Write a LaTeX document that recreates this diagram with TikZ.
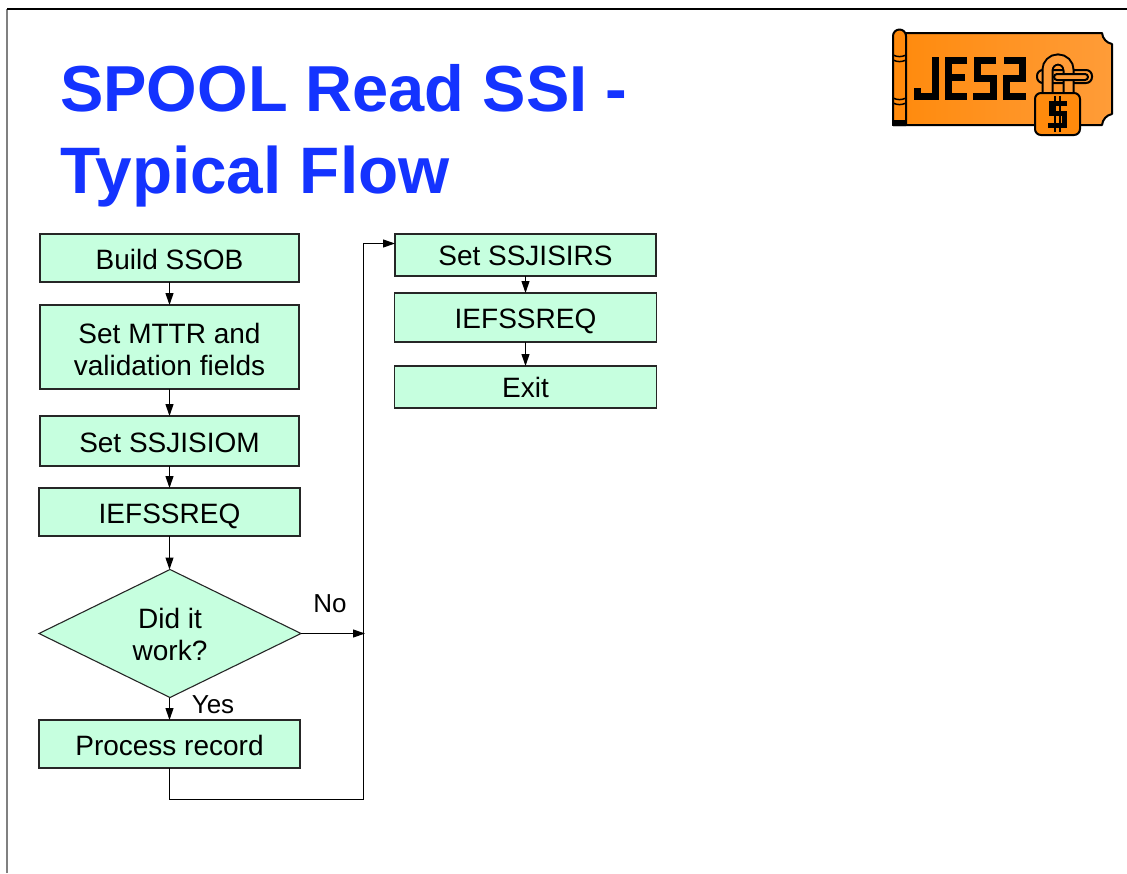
\documentclass[tikz,border=0pt]{standalone}
\usepackage{fontspec}
\setmainfont{Liberation Sans}
\usetikzlibrary{shapes.geometric,arrows.meta}
\definecolor{boxgreen}{HTML}{C6FFDF}
\definecolor{titleblue}{HTML}{1433FF}
\definecolor{logolight}{HTML}{FF9C38}
\definecolor{logodark}{HTML}{FF8A0C}
\tikzset{
	flowbox/.style = {draw = black!85, fill = boxgreen, line width = 1.1, inner sep = 0, outer sep = 0, align = center, font = \fontsize{28}{32}\selectfont},
	lowered/.style = {text height = #1, text depth = 0},
	flowtext/.style = {inner sep = 0, font = \fontsize{26}{30}\selectfont},
	flowline/.style = {line width = 1.1, ->},
	titletext/.style = {anchor = base west, inner sep = 0, text = titleblue},
	logoline/.style = {line width = 2, line join = round},
	logoletter/.style = {line width = 7, line join = miter, line cap = butt}
}
\begin{document}
\begin{tikzpicture}[x = 1pt, y = -1pt, > = {Triangle[length = 12, width = 8]}]
	\useasboundingbox (0,0) rectangle (1127,873);

	\draw[gray, line width = 2] (7,873) -- (7,9);
	\draw[line width = 1.2] (7,9) -- (1127,9);

	\node[titletext, font = \fontsize{65}{70}\selectfont\bfseries] (title1) at (60,111) {SPOOL Read SSI -};
	\node[titletext, font = \fontsize{65.7}{70}\selectfont\bfseries] (title2) at (60,193) {Typical Flow};

	% left column
	\node[flowbox, lowered = 22, minimum width = 259, minimum height = 48] (ssob) at (169.5,258) {Build SSOB};
	\node[flowbox, lowered = 56, minimum width = 259, minimum height = 84] (mttr) at (169.5,347) {Set MTTR and\\validation fields};
	\node[flowbox, lowered = 23, minimum width = 259, minimum height = 50] (siom) at (169.5,441) {Set SSJISIOM};
	\node[flowbox, lowered = 23, minimum width = 261, minimum height = 48] (req1) at (169.5,512) {IEFSSREQ};
	\node[flowbox, diamond, aspect = 2.05, minimum width = 262, minimum height = 128] (work) at (170,633.5) {};
	\node[flowtext, align = center, font = \fontsize{28}{32}\selectfont] (worktext) at (170,634) {Did it\\work?};
	\node[flowbox, lowered = 22, minimum width = 261, minimum height = 48] (proc) at (169.5,744) {Process record};

	% right column
	\node[flowbox, lowered = 21, minimum width = 261, minimum height = 42] (sirs) at (525.5,255) {Set SSJISIRS};
	\node[flowbox, lowered = 22.5, minimum width = 262, minimum height = 49] (req2) at (525.5,317.5) {IEFSSREQ};
	\node[flowbox, lowered = 21, minimum width = 262, minimum height = 42] (exit) at (525.5,387) {Exit};

	\node[flowtext] (no) at (330,604) {No};
	\node[flowtext] (yes) at (213,705) {Yes};

	\coordinate (join) at (365,633.5);
	\coordinate (entry) at (395,243.5);
	\coordinate (low) at (363.5,799.5);
	\coordinate (high) at (363.5,243.5);

	\draw[flowline] (ssob) -- (mttr);
	\draw[flowline] (mttr) -- (siom);
	\draw[flowline] (siom) -- (req1);
	\draw[flowline] (req1.south) -- (req1.south |- work.north);
	\draw[flowline] (work.south -| proc.north) -- (proc.north);
	\draw[flowline] (work.east) -- (join);
	\draw[flowline] (proc.south) |- (low) -- (high) -- (entry);
	\draw[flowline] (sirs) -- (req2);
	\draw[flowline] (req2) -- (exit);

	% logo
	\draw[logoline, left color = logodark, right color = logolight] (906,33) -- (1102,33) to[bend right = 35] (1112,44) -- (1112,114) to[bend right = 35] (1102,125) -- (893,125) -- (906,33);
	\draw[logoline, fill = logodark] (893,125) -- (893,36) arc (180:360:6.5) -- (906,125) -- cycle;
	\fill (893,120) rectangle (906,125);
	\draw[line width = 1.5] (893,55) to[bend right = 25] (906,55) (893,60) to[bend right = 25] (906,60);
	\draw[line width = 1.5] (893,98) to[bend right = 25] (906,98) (893,103) to[bend right = 25] (906,103);

	\draw[logoletter] (935,57) -- (935,96) -- (917,96) -- (917,88);
	\draw[logoletter] (967,60.5) -- (948,60.5) -- (948,96) -- (967,96) (948,77) -- (965,77);
	\draw[logoletter] (996,60.5) -- (977,60.5) -- (977,78) -- (993,78) -- (993,96) -- (973,96);
	\draw[logoletter] (1004,60.5) -- (1022,60.5) -- (1022,78) -- (1006,78) -- (1006,96) -- (1026,96);

	\draw[logoline, fill = logolight, rounded corners = 6] (1037,70) rectangle (1092,83);
	\draw[line width = 12, black] (1047.5,95) -- (1047.5,70) arc (180:360:10.5) -- (1068.5,95);
	\draw[line width = 8, logolight] (1047.5,96) -- (1047.5,70) arc (180:360:10.5) -- (1068.5,96);
	\draw[logoline, fill = logolight, rounded corners = 3] (1054,74) rectangle (1088,80);
	\draw[logoline, fill = logodark, rounded corners = 6] (1035,93) rectangle (1080,135);
	\draw[line width = 5] (1067,103) -- (1051,103) -- (1051,113) -- (1064,113) -- (1064,125) -- (1048,125);
	\draw[line width = 2] (1055,96) -- (1055,132) (1060,96) -- (1060,132);
\end{tikzpicture}
\end{document}
